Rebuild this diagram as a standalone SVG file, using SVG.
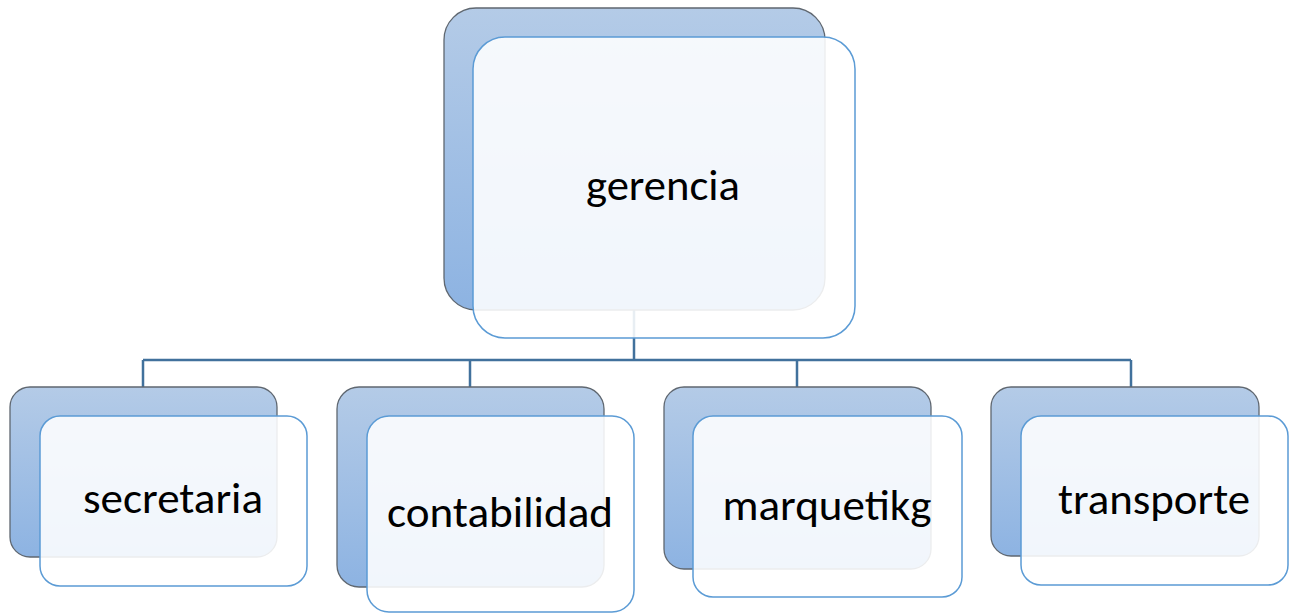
<svg xmlns="http://www.w3.org/2000/svg" width="1296" height="614" viewBox="0 0 1296 614">
<defs>
<linearGradient id="bg" x1="0" y1="0" x2="0" y2="1">
<stop offset="0" stop-color="#b4cbe7"/>
<stop offset="1" stop-color="#8db3e2"/>
</linearGradient>
<style>
.back{fill:url(#bg);stroke:#5f6770;stroke-width:1.3}
.front{fill:#ffffff;fill-opacity:0.88;stroke:#5b9bd5;stroke-width:1.5}
.lbl{font-family:"Carlito","Open Sans","Liberation Sans",sans-serif;font-size:44px;fill:#000;text-anchor:middle}
.conn{fill:none;stroke:#41719c;stroke-width:2.5}
</style>
</defs>
<rect width="1296" height="614" fill="#fff"/>
<g id="connectors">
<path class="conn" d="M634 310 V360 M143 360 H1131 M143 360 V387 M470 360 V387 M797 360 V387 M1131 360 V387"/>
</g>
<g id="gerencia">
<rect class="back" x="444" y="8" width="381" height="302" rx="32"/>
<rect class="front" x="473" y="37" width="382" height="301" rx="32"/>
<text class="lbl" x="663" y="200" textLength="154" lengthAdjust="spacingAndGlyphs">gerencia</text>
</g>
<g id="secretaria">
<rect class="back" x="10" y="387" width="267" height="170" rx="20"/>
<rect class="front" x="40" y="416" width="267" height="170" rx="20"/>
<text class="lbl" x="173" y="513" textLength="180" lengthAdjust="spacingAndGlyphs">secretaria</text>
</g>
<g id="contabilidad">
<rect class="back" x="337" y="387" width="267" height="200" rx="22"/>
<rect class="front" x="367" y="416" width="267" height="196" rx="22"/>
<text class="lbl" x="500" y="527" textLength="226" lengthAdjust="spacingAndGlyphs">contabilidad</text>
</g>
<g id="marquetikg">
<rect class="back" x="664" y="387" width="267" height="182" rx="20"/>
<rect class="front" x="693" y="416" width="269" height="181" rx="20"/>
<text class="lbl" x="827" y="520" textLength="209" lengthAdjust="spacingAndGlyphs">marquetikg</text>
</g>
<g id="transporte">
<rect class="back" x="991" y="387" width="268" height="169" rx="20"/>
<rect class="front" x="1021" y="416" width="267" height="169" rx="20"/>
<text class="lbl" x="1154" y="514" textLength="192" lengthAdjust="spacingAndGlyphs">transporte</text>
</g>
</svg>
